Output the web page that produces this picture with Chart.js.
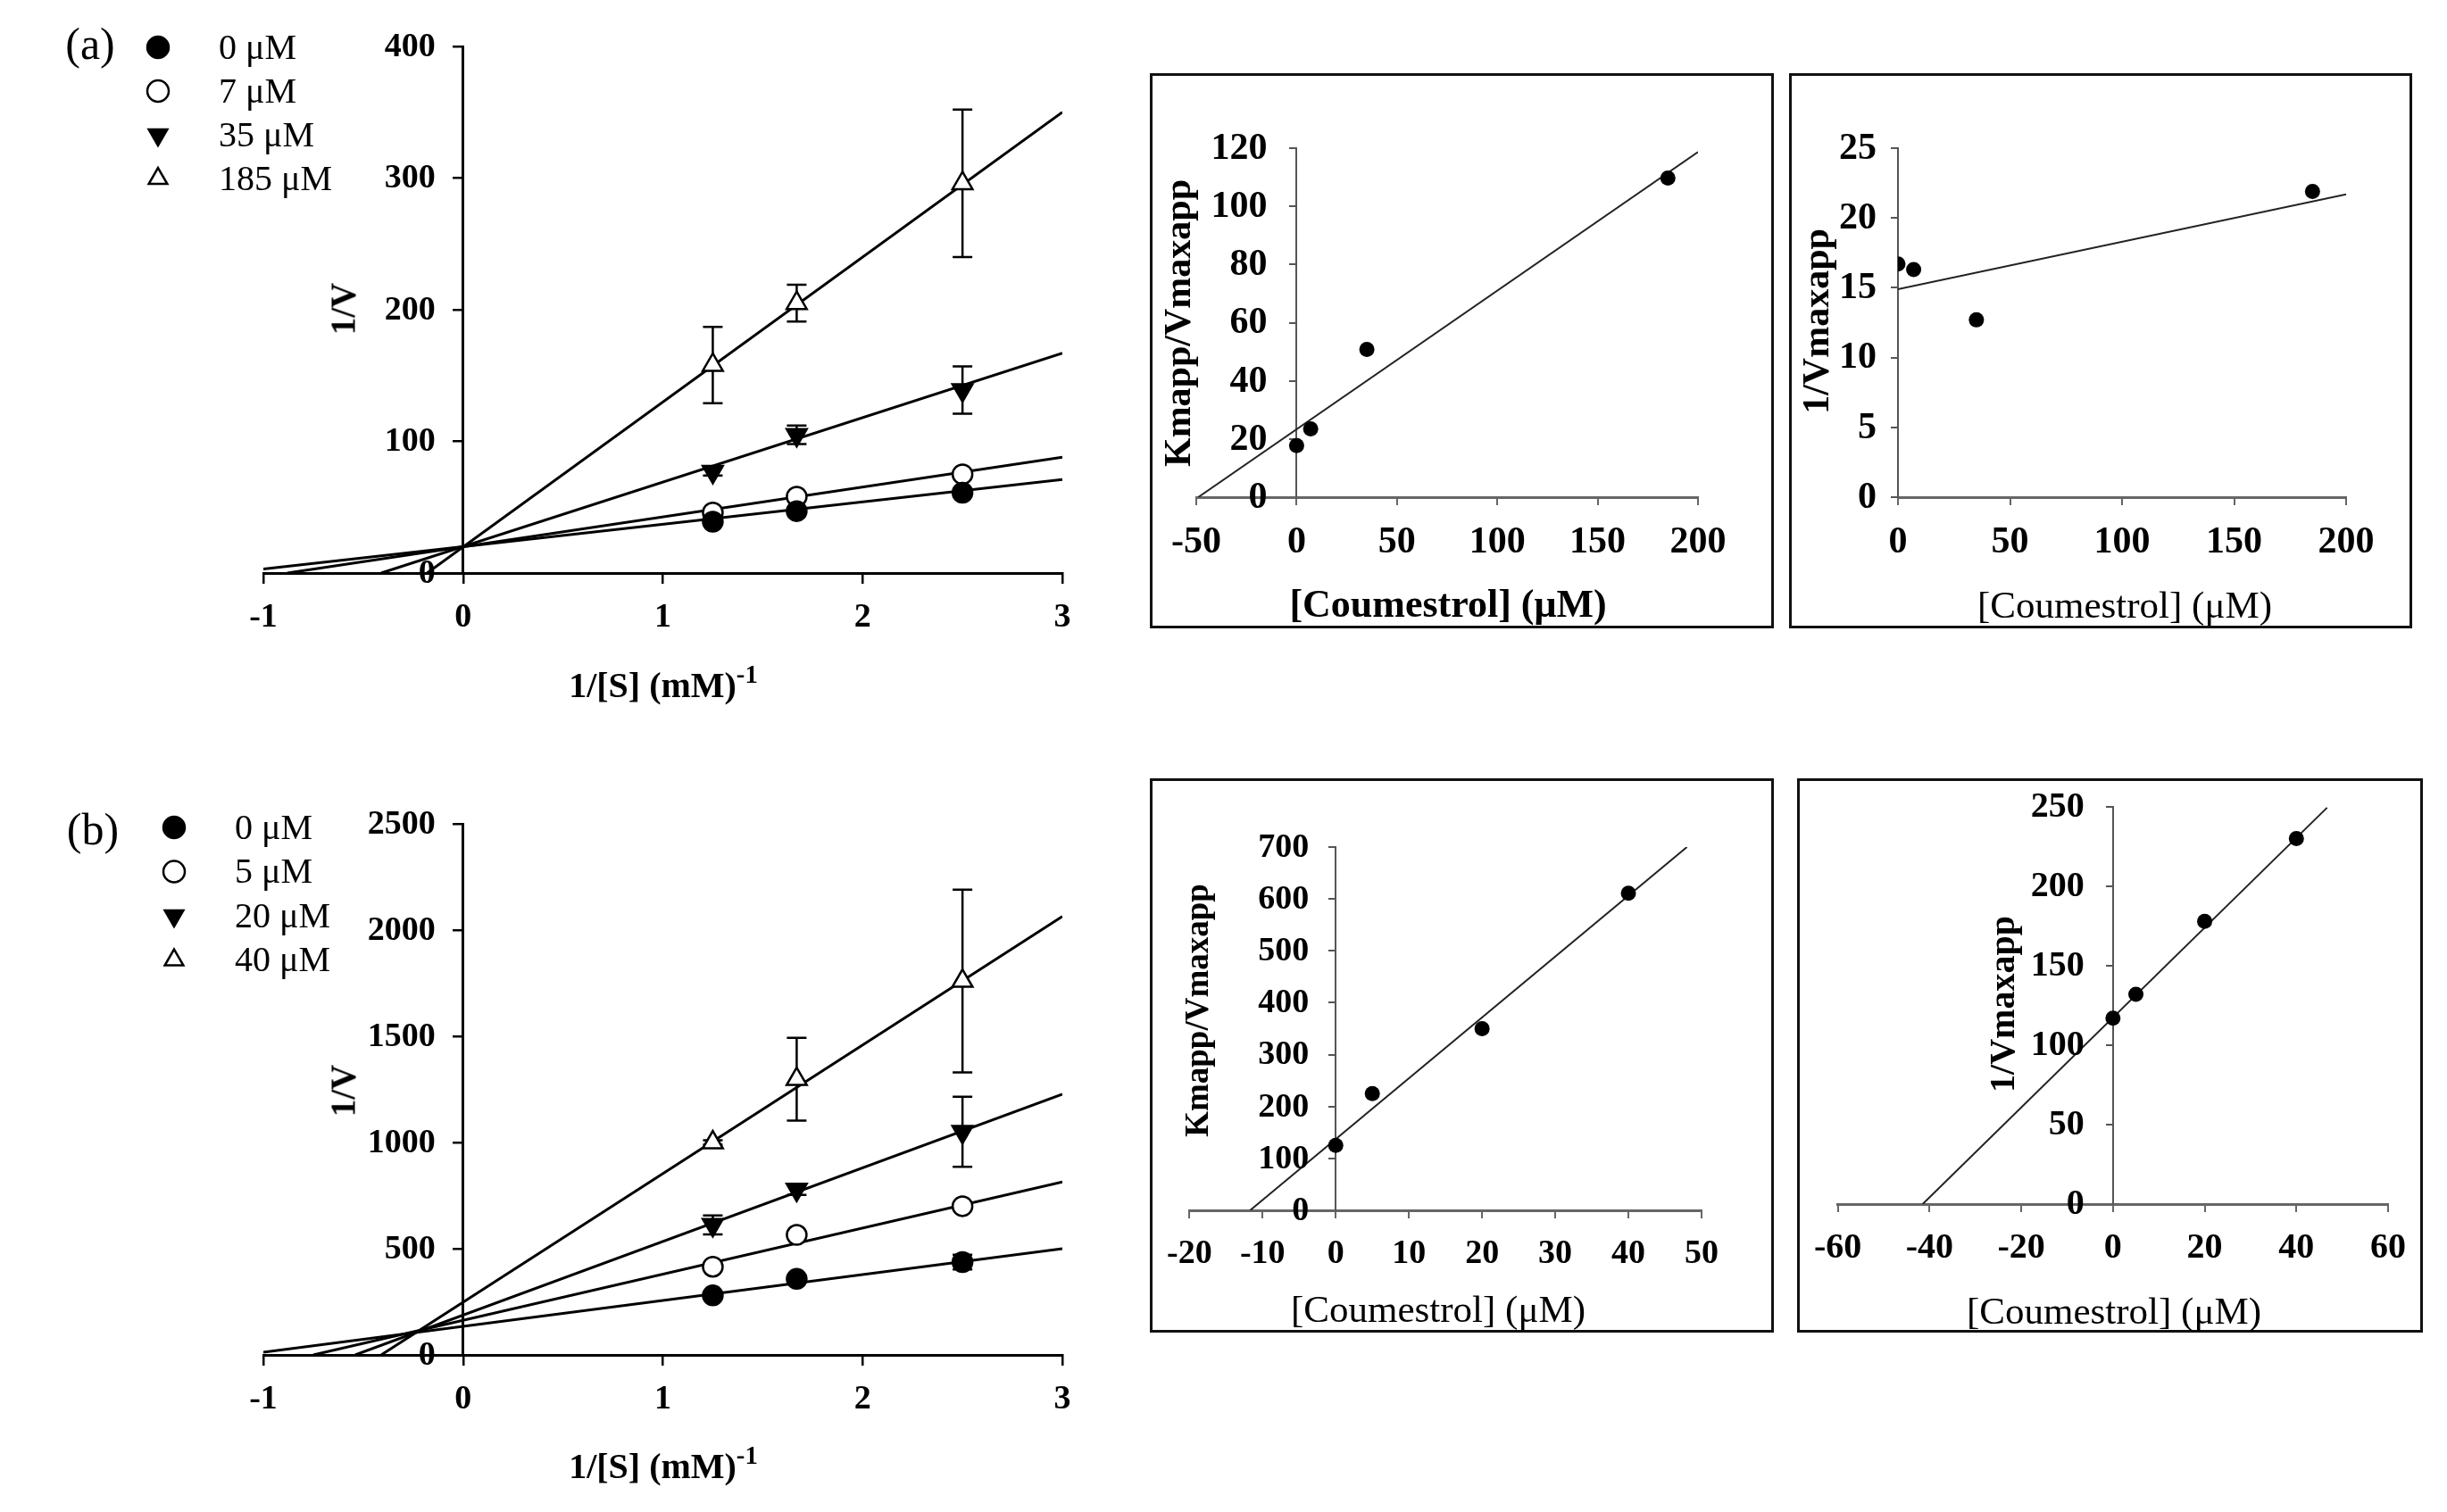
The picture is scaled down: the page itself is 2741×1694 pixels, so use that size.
<!DOCTYPE html>
<html><head><meta charset="utf-8">
<script src="https://cdn.jsdelivr.net/npm/chart.js@4.4.1/dist/chart.umd.min.js"></script>
<style>
html,body{margin:0;padding:0;background:#fff;}
body{width:2741px;height:1694px;position:relative;overflow:hidden;font-family:"Liberation Serif","Times New Roman",serif;color:#000;}
.cbox{position:absolute;}
.frame{position:absolute;border:3px solid #111;box-sizing:border-box;pointer-events:none;}
.t{position:absolute;white-space:nowrap;transform:translate(-50%,-50%);line-height:1;}
.r{transform:translate(-50%,-50%) rotate(-90deg);}
.b{font-weight:bold;}
sup{font-size:0.72em;vertical-align:0.55em;line-height:0;}
</style></head><body>

<div class="cbox" style="left:0;top:0;width:1260px;height:830px"><canvas id="ca"></canvas></div>
<div class="cbox" style="left:0;top:870px;width:1260px;height:824px"><canvas id="cb"></canvas></div>
<div class="cbox" style="left:1288px;top:82px;width:699px;height:622px"><canvas id="c1"></canvas></div>
<div class="cbox" style="left:2004px;top:82px;width:698px;height:622px"><canvas id="c2"></canvas></div>
<div class="cbox" style="left:1288px;top:872px;width:699px;height:621px"><canvas id="c3"></canvas></div>
<div class="cbox" style="left:2013px;top:872px;width:701px;height:621px"><canvas id="c4"></canvas></div>

<div class="frame" style="left:1288px;top:82px;width:699px;height:622px"></div>
<div class="frame" style="left:2004px;top:82px;width:698px;height:622px"></div>
<div class="frame" style="left:1288px;top:872px;width:699px;height:621px"></div>
<div class="frame" style="left:2013px;top:872px;width:701px;height:621px"></div>

<div class="t" style="left:101px;top:49px;font-size:50px">(a)</div>
<div class="t" style="left:104px;top:929px;font-size:50px">(b)</div>
<div class="t r b" style="left:384px;top:346px;font-size:39px">1/V</div>
<div class="t b" style="left:743px;top:768px;font-size:40px">1/[S] (mM)<sup>-1</sup></div>
<div class="t r b" style="left:384px;top:1222px;font-size:39px">1/V</div>
<div class="t b" style="left:743px;top:1643px;font-size:40px">1/[S] (mM)<sup>-1</sup></div>

<div class="t r b" style="left:1319px;top:362px;font-size:42px">Kmapp/Vmaxapp</div>
<div class="t r b" style="left:2034px;top:360px;font-size:42px">1/Vmaxapp</div>
<div class="t r b" style="left:1340px;top:1132px;font-size:37px">Kmapp/Vmaxapp</div>
<div class="t r b" style="left:2243px;top:1125px;font-size:40px">1/Vmaxapp</div>
<div class="t b" style="left:1622px;top:677px;font-size:44px">[Coumestrol] (μM)</div>
<div class="t" style="left:2380px;top:677px;font-size:43px">[Coumestrol] (μM)</div>
<div class="t" style="left:1611px;top:1466px;font-size:43px">[Coumestrol] (μM)</div>
<div class="t" style="left:2368px;top:1468px;font-size:43px">[Coumestrol] (μM)</div>

<script>
// ---------- DATA ----------
const invS = [1.25, 1.67, 2.5];

// panel (a)
const aLabels = ['0 μM', '7 μM', '35 μM', '185 μM'];
const aV0 = [39, 47, 61];      const aErr0 = [2, 2, 3];
const aV7 = [46, 58, 75];      const aErr7 = [2, 2, 2];
const aV35 = [77, 105, 139];   const aErr35 = [3, 7, 18];
const aV185 = [158, 205, 296]; const aErr185 = [29, 14, 56];
const aFitStartX = [-1, -0.88, -0.41, -0.18];
const aFitStartY = [3, 0, 0, 0];
const aFitEndX = [3, 3, 3, 3];
const aFitEndY = [71, 88, 167, 350];
const aXTicks = [-1, 3, 1];      // min, max, step
const aYTicks = [0, 400, 100];

// panel (b)
const bLabels = ['0 μM', '5 μM', '20 μM', '40 μM'];
const bV0 = [280, 358, 437];     const bErr0 = [15, 15, 35];
const bV5 = [415, 565, 700];     const bErr5 = [10, 10, 10];
const bV20 = [612, 778, 1050];   const bErr20 = [45, 25, 165];
const bV40 = [1000, 1298, 1760]; const bErr40 = [10, 195, 430];
const bFitStartX = [-1, -0.75, -0.54, -0.41];
const bFitStartY = [13, 0, 0, 0];
const bFitEndX = [3, 3, 3, 3];
const bFitEndY = [500, 814, 1227, 2064];
const bXTicks = [-1, 3, 1];
const bYTicks = [0, 2500, 500];

// secondary plots (a)
const aConc = [0, 7, 35, 185];
const aSlopeRep = [17.7, 23.5, 50.8, 109.7];   // Kmapp/Vmaxapp
const aInterRep = [16.7, 16.3, 12.7, 21.9];    // 1/Vmaxapp
const aSlopeFitX = [-49, 200];  const aSlopeFitY = [0, 118.7];
const aInterFitX = [0, 200];    const aInterFitY = [14.9, 21.7];
// secondary plots (b)
const bConc = [0, 5, 20, 40];
const bSlopeRep = [125, 225, 350, 611];
const bInterRep = [117, 132, 178, 230];
const bSlopeFitX = [-11.7, 48];   const bSlopeFitY = [0, 700];
const bInterFitX = [-41.5, 46.7]; const bInterFitY = [0, 249.5];

// ---------- STYLE ----------
const FAM = '"Liberation Serif","Times New Roman",serif';
Chart.defaults.font.family = FAM;
Chart.defaults.color = '#000';
Chart.defaults.animation = false;

const markerStyles = [
  {pointStyle: 'circle', rotation: 0, bg: '#000', r: 11},
  {pointStyle: 'circle', rotation: 0, bg: '#fff', r: 11},
  {pointStyle: 'triangle', rotation: 180, bg: '#000', r: 13},
  {pointStyle: 'triangle', rotation: 0, bg: '#fff', r: 13}
];

function pts(xs, ys) { return xs.map((x, i) => ({x: x, y: ys[i]})); }

const errPlugin = {
  id: 'errBars',
  beforeDatasetsDraw(chart) {
    const ctx = chart.ctx, xs = chart.scales.x, ys = chart.scales.y;
    ctx.save();
    ctx.strokeStyle = '#000';
    ctx.lineWidth = 2.5;
    chart.data.datasets.forEach(ds => {
      if (!ds.errors) return;
      ds.data.forEach((p, j) => {
        const e = ds.errors[j];
        if (!e) return;
        const px = xs.getPixelForValue(p.x);
        const y1 = ys.getPixelForValue(p.y - e), y2 = ys.getPixelForValue(p.y + e);
        ctx.beginPath();
        ctx.moveTo(px, y1); ctx.lineTo(px, y2);
        ctx.moveTo(px - 11, y1); ctx.lineTo(px + 11, y1);
        ctx.moveTo(px - 11, y2); ctx.lineTo(px + 11, y2);
        ctx.stroke();
      });
    });
    ctx.restore();
  }
};

// y tick labels placed left of a y axis that sits at x = 0
const yLabelPlugin = {
  id: 'yLabels',
  afterDraw(chart, args, opts) {
    const ctx = chart.ctx, xs = chart.scales.x, ys = chart.scales.y;
    const xpx = xs.getPixelForValue(0);
    ctx.save();
    ctx.fillStyle = '#000';
    ctx.font = 'bold ' + opts.size + 'px ' + FAM;
    ctx.textAlign = 'right';
    ctx.textBaseline = 'middle';
    ys.ticks.forEach(t => {
      ctx.fillText(String(t.value), xpx - opts.gap, ys.getPixelForValue(t.value) + 1);
    });
    ctx.restore();
  }
};

const legendPlugin = {
  id: 'manualLegend',
  afterDraw(chart, args, opts) {
    if (!opts || !opts.labels) return;
    const ctx = chart.ctx;
    ctx.save();
    opts.labels.forEach((lab, i) => {
      const ds = chart.data.datasets[i];
      const y = opts.y + i * opts.dy;
      ctx.fillStyle = ds.pointBackgroundColor;
      ctx.strokeStyle = '#000';
      ctx.lineWidth = 2.5;
      Chart.helpers.drawPoint(ctx, {pointStyle: ds.pointStyle, rotation: ds.pointRotation, radius: opts.r, borderWidth: 2.5}, opts.x, y);
      ctx.fillStyle = '#000';
      ctx.font = opts.size + 'px ' + FAM;
      ctx.textBaseline = 'middle';
      ctx.textAlign = 'left';
      ctx.fillText(lab, opts.tx, y + 2);
    });
    ctx.restore();
  }
};

function axisCfg(min, max, step, o) {
  return {
    type: 'linear', min: min, max: max, position: o.position,
    ticks: {display: o.showLabels, stepSize: step, autoSkip: false, maxRotation: 0, includeBounds: true,
            font: {size: o.size, weight: 'bold', family: FAM}, color: '#000', padding: o.padding,
            callback: v => String(v)},
    grid: {drawOnChartArea: false, drawTicks: true, tickLength: o.tick, color: o.color, lineWidth: o.tickWidth},
    border: {display: true, color: o.color, width: o.width}
  };
}

function mainChart(id, pad, labels, vals, errs, fsx, fsy, fex, fey, xt, yt, legend) {
  const datasets = [];
  for (let i = 0; i < 4; i++) {
    const m = markerStyles[i];
    datasets.push({
      label: labels[i], type: 'scatter', data: pts(invS, vals[i]), errors: errs[i],
      pointStyle: m.pointStyle, pointRotation: m.rotation, pointRadius: m.r,
      pointBackgroundColor: m.bg, pointBorderColor: '#000', pointBorderWidth: 2.5,
      showLine: false, order: 0
    });
  }
  for (let i = 0; i < 4; i++) {
    datasets.push({
      label: labels[i] + ' fit', type: 'scatter',
      data: [{x: fsx[i], y: fsy[i]}, {x: fex[i], y: fey[i]}],
      showLine: true, pointRadius: 0, borderColor: '#000', borderWidth: 3, order: 1
    });
  }
  return new Chart(document.getElementById(id), {
    type: 'scatter',
    data: {datasets: datasets},
    options: {
      responsive: true, maintainAspectRatio: false,
      layout: {padding: pad},
      plugins: {legend: {display: false}, tooltip: {enabled: false}, manualLegend: legend,
                yLabels: {size: 38, gap: 31}},
      scales: {
        x: axisCfg(xt[0], xt[1], xt[2], {position: {y: yt[0]}, showLabels: true, size: 38, padding: 17, tick: 10, color: '#000', tickWidth: 2.5, width: 3}),
        y: axisCfg(yt[0], yt[1], yt[2], {position: {x: 0}, showLabels: false, size: 38, padding: 21, tick: 10, color: '#000', tickWidth: 2.5, width: 3})
      }
    },
    plugins: [errPlugin, legendPlugin, yLabelPlugin]
  });
}

mainChart('ca', {left: 295, right: 70, top: 52, bottom: 188}, aLabels,
  [aV0, aV7, aV35, aV185], [aErr0, aErr7, aErr35, aErr185],
  aFitStartX, aFitStartY, aFitEndX, aFitEndY, aXTicks, aYTicks,
  {labels: aLabels, x: 177, tx: 245, y: 53, dy: 49, r: 12, size: 40});

mainChart('cb', {left: 295, right: 70, top: 53, bottom: 176}, bLabels,
  [bV0, bV5, bV20, bV40], [bErr0, bErr5, bErr20, bErr40],
  bFitStartX, bFitStartY, bFitEndX, bFitEndY, bXTicks, bYTicks,
  {labels: bLabels, x: 195, tx: 263, y: 57, dy: 49.5, r: 12, size: 40});

function insetChart(id, pad, conc, vals, fx, fy, xt, yt, fs, gap) {
  return new Chart(document.getElementById(id), {
    type: 'scatter',
    data: {datasets: [
      {label: 'data', data: pts(conc, vals), pointRadius: 8.5, pointBackgroundColor: '#000',
       pointBorderColor: '#000', pointBorderWidth: 0, showLine: false, order: 0},
      {label: 'fit', data: pts(fx, fy), showLine: true, pointRadius: 0,
       borderColor: '#222', borderWidth: 2, order: 1}
    ]},
    options: {
      responsive: true, maintainAspectRatio: false,
      layout: {padding: pad},
      plugins: {legend: {display: false}, tooltip: {enabled: false}, yLabels: {size: fs, gap: gap}},
      scales: {
        x: axisCfg(xt[0], xt[1], xt[2], {position: {y: 0}, showLabels: true, size: fs, padding: 19, tick: 7, color: '#666', tickWidth: 2, width: 3}),
        y: axisCfg(yt[0], yt[1], yt[2], {position: {x: 0}, showLabels: false, size: fs, padding: 0, tick: 7, color: '#555', tickWidth: 2, width: 2})
      }
    },
    plugins: [yLabelPlugin]
  });
}

insetChart('c1', {left: 52, right: 85, top: 84, bottom: 147}, aConc, aSlopeRep, aSlopeFitX, aSlopeFitY, [-50, 200, 50], [0, 120, 20], 42, 33);
insetChart('c2', {left: 122, right: 74, top: 84, bottom: 147}, aConc, aInterRep, aInterFitX, aInterFitY, [0, 200, 50], [0, 25, 5], 42, 24);
insetChart('c3', {left: 27, right: 81, top: 77, bottom: 137}, bConc, bSlopeRep, bSlopeFitX, bSlopeFitY, [-20, 50, 10], [0, 700, 100], 38, 30);
insetChart('c4', {left: 33, right: 27, top: 32, bottom: 144}, bConc, bInterRep, bInterFitX, bInterFitY, [-60, 60, 20], [0, 250, 50], 40, 32);
</script>
</body></html>
